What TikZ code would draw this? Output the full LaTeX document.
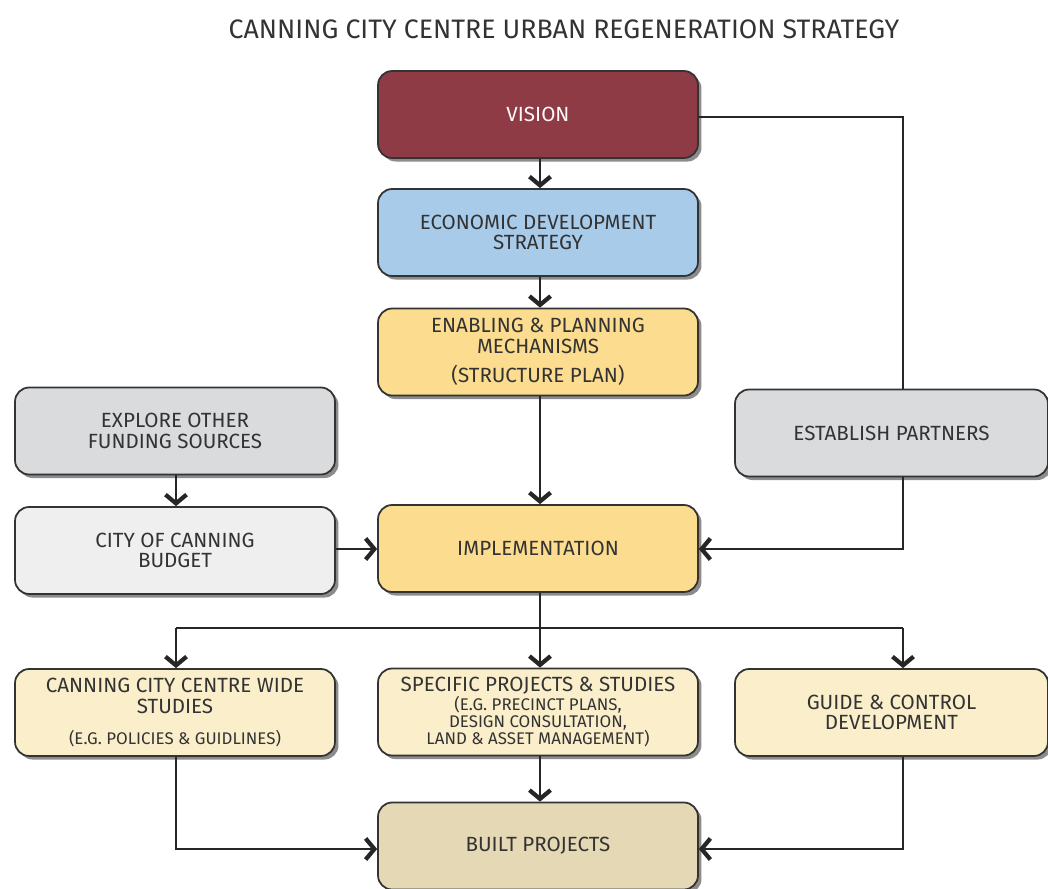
\documentclass[tikz,border=0pt]{standalone}
\usepackage{fontspec}
\setmainfont{Fira Sans}
\usetikzlibrary{arrows.meta,shadows}
\definecolor{visionc}{HTML}{8E3B46}
\definecolor{econc}{HTML}{A9CBEA}
\definecolor{yellowc}{HTML}{FCDC8E}
\definecolor{greyc}{HTML}{DADBDD}
\definecolor{lightc}{HTML}{EFEFEF}
\definecolor{creamc}{HTML}{FBEFCB}
\definecolor{tanc}{HTML}{E5D8B5}
\definecolor{textc}{HTML}{333333}
\tikzset{
  box/.style={draw=black!80, line width=1pt, rounded corners=8pt, minimum width=6.4cm, minimum height=1.74cm,
    align=center, text=textc, font=\fontsize{11.7}{11.8}\selectfont,
    drop shadow={shadow xshift=2pt, shadow yshift=-2pt, fill=black, opacity=0.45}},
  widebox/.style={box, minimum width=6.26cm},
  conn/.style={line width=1.6pt, draw=black!85},
  arr/.style={conn, -{Straight Barb[length=5pt,width=12pt,line width=2.4pt]}}
}
\newcommand{\smalltxt}{\fontsize{9.6}{9.6}\selectfont}
\begin{document}
\begin{tikzpicture}[x=0.02cm,y=-0.02cm]
\useasboundingbox (0,0) rectangle (1048,889);
\node[text=textc, font=\fontsize{15.2}{16}\selectfont] (title) at (564,29) {CANNING CITY CENTRE URBAN REGENERATION STRATEGY};
\node[box, fill=visionc, text=white!92!pink] (vision) at (538,114.5) {VISION};
\node[box, fill=econc] (econ) at (538,232.5) {ECONOMIC DEVELOPMENT\\STRATEGY};
\node[box, fill=yellowc] (enab) at (538,352) {ENABLING \& PLANNING\\MECHANISMS\\[5pt](STRUCTURE PLAN)};
\node[box, fill=greyc] (explore) at (175,431) {EXPLORE OTHER\\FUNDING SOURCES};
\node[widebox, fill=greyc] (partners) at (891.5,433) {ESTABLISH PARTNERS};
\node[box, fill=lightc] (budget) at (175,550.5) {CITY OF CANNING\\BUDGET};
\node[box, fill=yellowc] (impl) at (538,548.5) {IMPLEMENTATION};
\node[box, fill=creamc] (wide) at (175,712.5) {CANNING CITY CENTRE WIDE\\STUDIES\\[6pt]{\smalltxt (E.G. POLICIES \& GUIDLINES)}};
\node[box, fill=creamc] (spec) at (538,712) {SPECIFIC PROJECTS \& STUDIES\\[-1pt]{\smalltxt (E.G. PRECINCT PLANS,}\\[-2pt]{\smalltxt DESIGN CONSULTATION,}\\[-2pt]{\smalltxt LAND \& ASSET MANAGEMENT)}};
\node[widebox, fill=creamc] (guide) at (891.5,712.5) {GUIDE \& CONTROL\\DEVELOPMENT};
\node[box, fill=tanc] (built) at (538,846) {BUILT PROJECTS};
\coordinate (split) at (540,628);
\coordinate (vr) at (903,117);
\coordinate (pb) at (903,549);
\draw[arr] (vision.south -| 540,0) -- (econ.north -| 540,0);
\draw[arr] (econ.south -| 540,0) -- (enab.north -| 540,0);
\draw[arr] (enab.south -| 540,0) -- (impl.north -| 540,0);
\draw[conn] (vision.east |- vr) -- (vr) -- (partners.north -| vr);
\draw[arr] (partners.south -| pb) -- (pb) -- (impl.east |- pb);
\draw[arr] (explore.south -| 176,0) -- (budget.north -| 176,0);
\draw[arr] (budget.east |- pb) -- (impl.west |- pb);
\draw[conn] (impl.south -| split) -- (split);
\draw[conn] (split -| 176,0) -- (split -| 903,0);
\draw[arr] (split -| 176,0) -- (wide.north -| 176,0);
\draw[arr] (split) -- (spec.north -| split);
\draw[arr] (split -| 903,0) -- (guide.north -| 903,0);
\draw[arr] (wide.south -| 176,0) -- (176,849) -- (built.west |- 0,849);
\draw[arr] (spec.south -| 540,0) -- (built.north -| 540,0);
\draw[arr] (guide.south -| 903,0) -- (903,849) -- (built.east |- 0,849);
\end{tikzpicture}
\end{document}
